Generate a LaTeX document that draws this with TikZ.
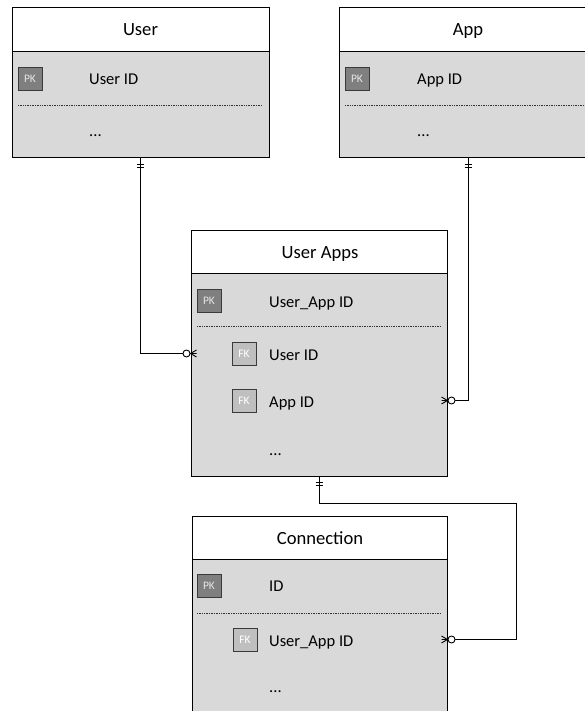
\documentclass[tikz,border=0pt]{standalone}
\usepackage{fontspec}
\setmainfont{Carlito}
\begin{document}
\begin{tikzpicture}[x=1pt,y=-1pt,
  entity/.style={draw=black,fill=bodygray,line width=1pt,inner sep=0pt},
  header/.style={draw=black,fill=white,line width=1pt,inner sep=0pt,minimum height=44pt},
  title/.style={font=\fontsize{18.6}{20}\selectfont,anchor=base,inner sep=0pt},
  field/.style={font=\fontsize{16.5}{18}\selectfont,anchor=base west,inner sep=0pt},
  pkbox/.style={draw=keyedge,fill=pkgray,line width=0.9pt,minimum width=24pt,minimum height=23pt,inner sep=0pt,text=pktext,font=\fontsize{11.5}{12}\selectfont},
  fkbox/.style={draw=keyedge,fill=fkgray,line width=0.9pt,minimum width=24pt,minimum height=23pt,inner sep=0pt,text=white,font=\fontsize{11.5}{12}\selectfont},
  sep/.style={densely dotted,line width=0.7pt,draw=black!80},
  conn/.style={draw=black,line width=1pt},
  zmany/.pic={\draw[line width=0.9pt] (0,0) -- (6,-3.5) (0,0) -- (6,3.5) (0,0) -- (6,0);
              \draw[line width=0.9pt,fill=white] (-4,0) circle (3.5);},
  onebar/.pic={\draw[line width=0.9pt] (-3.5,6) -- (3.5,6) (-3.5,9) -- (3.5,9);}
]
\definecolor{bodygray}{HTML}{D9D9D9}
\definecolor{pkgray}{HTML}{7F7F7F}
\definecolor{fkgray}{HTML}{BFBFBF}
\definecolor{keyedge}{HTML}{3A3A3A}
\definecolor{pktext}{HTML}{E6E6E6}
\useasboundingbox (0,0) rectangle (585,711);
\clip (0,0) rectangle (585,711);

% ---------- User ----------
\node[entity,minimum width=257pt,minimum height=150pt] (user) at (140.5,83) {};
\node[header,minimum width=257pt,anchor=north] (userh) at (user.north) {};
\node[title] (usert) at (140.5,36) {User};
\node[pkbox] (userpk) at (30,78.5) {PK};
\node[field] (userid) at (89,85) {User ID};
\draw[sep] (18,105) -- (262,105);
\node[field] (userdots) at (89,137) {...};

% ---------- App ----------
\node[entity,minimum width=258pt,minimum height=150pt] (app) at (468,83) {};
\node[header,minimum width=258pt,anchor=north] (apph) at (app.north) {};
\node[title] (appt) at (468,36) {App};
\node[pkbox] (apppk) at (357,78.5) {PK};
\node[field] (appid) at (417,85) {App ID};
\draw[sep] (345,105) -- (590,105);
\node[field] (appdots) at (417,137) {...};

% ---------- User Apps ----------
\node[entity,minimum width=256pt,minimum height=246pt] (ua) at (319,353) {};
\node[header,minimum width=256pt,minimum height=43pt,anchor=north] (uah) at (ua.north) {};
\node[title] (uat) at (320,258.7) {User Apps};
\node[pkbox] (uapk) at (209,300.5) {PK};
\node[field] (uaid) at (269,307) {User\_App ID};
\draw[sep] (197,326) -- (441,326);
\node[fkbox] (uafk1) at (244,353.5) {FK};
\node[field] (uauser) at (269,360) {User ID};
\node[fkbox] (uafk2) at (244,400.5) {FK};
\node[field] (uaapp) at (269,407.3) {App ID};
\node[field] (uadots) at (269,455) {...};

% ---------- Connection ----------
\node[entity,minimum width=255pt,minimum height=240pt] (con) at (319.5,636) {};
\node[header,minimum width=255pt,minimum height=43pt,anchor=north] (conh) at (con.north) {};
\node[title] (cont) at (320,544) {Connection};
\node[pkbox] (conpk) at (209,586) {PK};
\node[field] (conid) at (269,591.7) {ID};
\draw[sep] (197,613) -- (441,613);
\node[fkbox] (confk) at (245,639.5) {FK};
\node[field] (conua) at (269,646.7) {User\_App ID};
\node[field] (condots) at (269,692) {...};

% ---------- Connectors ----------
\coordinate (r1) at (516,503);
\draw[conn] (user.south) |- (ua.west |- uafk1.center);
\draw[conn] (app.south) |- (ua.east |- uafk2.center);
\draw[conn] (ua.south) -- (ua.south |- r1) -- (r1) |- (con.east |- confk.center);

% ---------- Markers ----------
\pic at (user.south) {onebar};
\pic at (app.south) {onebar};
\pic at (ua.south) {onebar};
\pic at (ua.west |- uafk1.center) {zmany};
\pic[xscale=-1] at (ua.east |- uafk2.center) {zmany};
\pic[xscale=-1] at (con.east |- confk.center) {zmany};
\end{tikzpicture}
\end{document}
